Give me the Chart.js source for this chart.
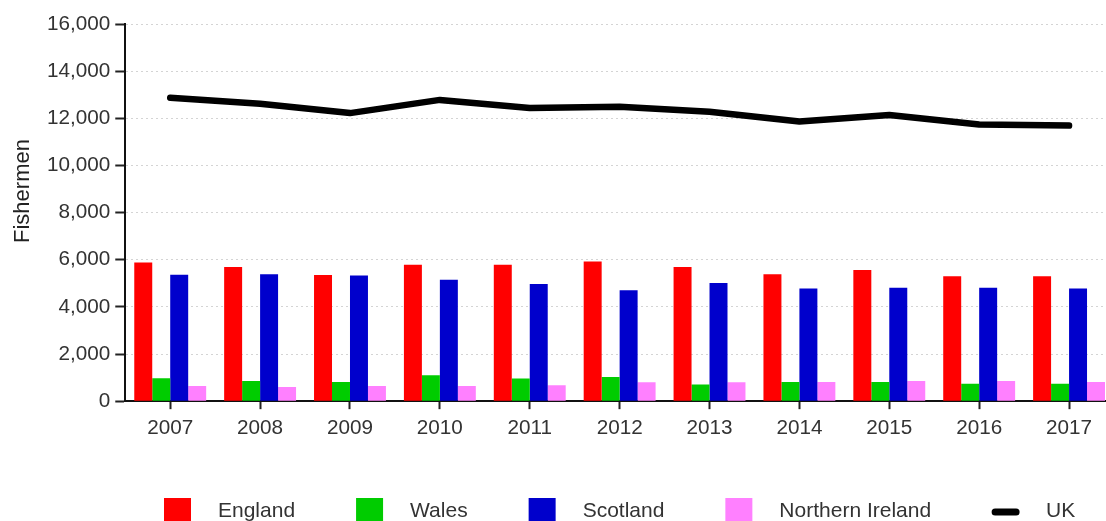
<!DOCTYPE html>
<html>
<head>
<meta charset="utf-8">
<script src="https://cdn.jsdelivr.net/npm/chart.js@4.4.1/dist/chart.umd.min.js"></script>
<style>
  html, body { margin: 0; padding: 0; background: #ffffff; overflow: hidden; }
  #wrap { width: 1120px; height: 521px; position: relative; }
</style>
</head>
<body>
<div id="wrap"><canvas id="c" width="1120" height="521"></canvas></div>
<script>
// ---- data ----
const years = ['2007','2008','2009','2010','2011','2012','2013','2014','2015','2016','2017'];
const england  = [5880, 5690, 5350, 5790, 5790, 5930, 5690, 5380, 5560, 5300, 5300];
const wales    = [970, 850, 810, 1100, 960, 1020, 710, 810, 810, 740, 740];
const scotland = [5360, 5380, 5330, 5150, 4970, 4700, 5010, 4780, 4810, 4810, 4780];
const nireland = [640, 600, 640, 640, 670, 800, 800, 810, 850, 850, 810];
const uk       = [12870, 12620, 12220, 12780, 12440, 12490, 12280, 11860, 12140, 11740, 11690];
const yAxisTitle = 'Fishermen';
const seriesNames = ['England', 'Wales', 'Scotland', 'Northern Ireland', 'UK'];

const FONT = "'Liberation Sans', Arial, Helvetica, sans-serif";
const TEXT = '#333333';

const yTitlePlugin = {
  id: 'yTitle',
  afterDraw(chart) {
    const ctx = chart.ctx;
    ctx.save();
    ctx.translate(23, 191);
    ctx.rotate(-Math.PI / 2);
    ctx.font = '22px ' + FONT;
    ctx.fillStyle = '#222222';
    ctx.textAlign = 'center';
    ctx.textBaseline = 'middle';
    ctx.fillText(yAxisTitle, 0, 0);
    ctx.restore();
  }
};

const legendPlugin = {
  id: 'customLegend',
  afterDraw(chart) {
    const ctx = chart.ctx;
    ctx.save();
    ctx.font = '21px ' + FONT;
    ctx.textBaseline = 'alphabetic';
    let x = 164;
    const boxTop = 498, box = 27, gapText = 27, gapItem = 61, baseY = 517;
    chart.data.datasets.forEach(ds => {
      if (ds.type === 'line') {
        ctx.strokeStyle = ds.borderColor;
        ctx.lineWidth = 7;
        ctx.lineCap = 'round';
        ctx.beginPath();
        ctx.moveTo(x + 3, 512);
        ctx.lineTo(x + box - 3, 512);
        ctx.stroke();
      } else {
        ctx.fillStyle = ds.backgroundColor;
        ctx.fillRect(x, boxTop, box, box);
      }
      const tx = x + box + gapText;
      ctx.fillStyle = TEXT;
      ctx.textAlign = 'left';
      ctx.fillText(ds.label, tx, baseY);
      x = tx + ctx.measureText(ds.label).width + gapItem;
    });
    ctx.restore();
  }
};

new Chart(document.getElementById('c'), {
  type: 'bar',
  data: {
    labels: years,
    datasets: [
      { label: seriesNames[0], data: england,  backgroundColor: '#ff0000', order: 1 },
      { label: seriesNames[1], data: wales,    backgroundColor: '#00cc00', order: 1 },
      { label: seriesNames[2], data: scotland, backgroundColor: '#0000cc', order: 1 },
      { label: seriesNames[3], data: nireland, backgroundColor: '#ff80ff', order: 1 },
      { type: 'line', label: seriesNames[4], data: uk, borderColor: '#000000', backgroundColor: '#000000',
        borderWidth: 6.5, pointRadius: 0, tension: 0, borderCapStyle: 'round', borderJoinStyle: 'round', order: 0 }
    ]
  },
  options: {
    responsive: false,
    animation: false,
    layout: { padding: { left: 42, right: 6, top: 24, bottom: 73 } },
    datasets: { bar: { categoryPercentage: 0.8, barPercentage: 1.0 } },
    plugins: { legend: { display: false }, tooltip: { enabled: false } },
    scales: {
      x: {
        grid: { display: true, drawOnChartArea: false, drawTicks: true, offset: false,
                tickLength: 8, tickColor: '#222222', tickWidth: 2 },
        border: { display: true, color: '#111111', width: 2 },
        ticks: { color: TEXT, font: { family: FONT, size: 20.7 }, padding: 7, maxRotation: 0 }
      },
      y: {
        min: 0, max: 16000,
        grid: { color: '#d4d4d4', lineWidth: 1, drawTicks: true,
                tickLength: 10, tickColor: '#222222', tickWidth: 2, tickBorderDash: [] },
        border: { display: true, color: '#111111', width: 2, dash: [2, 3] },
        ticks: { stepSize: 2000, color: TEXT, font: { family: FONT, size: 20.7 }, padding: 5,
                 callback: v => v.toLocaleString('en-US') }
      }
    }
  },
  plugins: [yTitlePlugin, legendPlugin]
});
</script>
</body>
</html>
